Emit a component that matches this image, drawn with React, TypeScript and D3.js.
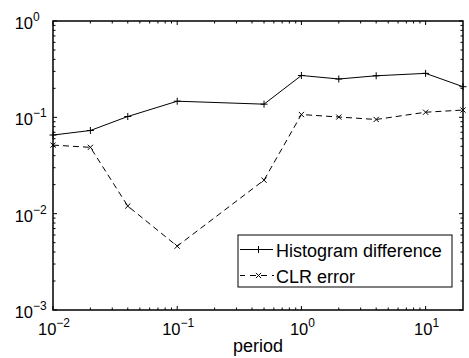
import React from "react";
import * as d3 from "d3";

const periods = [0.01, 0.02, 0.04, 0.1, 0.5, 1, 2, 4, 10, 20];
const histogramDiff = [0.0655, 0.073, 0.102, 0.147, 0.137, 0.272, 0.25, 0.27, 0.286, 0.208];
const clrError = [0.0515, 0.0488, 0.012, 0.0046, 0.0223, 0.107, 0.1007, 0.095, 0.113, 0.119];
const xMajor = [0.01, 0.1, 1, 10];
const yMajor = [0.001, 0.01, 0.1, 1];
const xExp = ["−2", "−1", "0", "1"];
const yExp = ["−3", "−2", "−1", "0"];
const legendLabels = ["Histogram difference", "CLR error"];

export default function App() {
  const W = 469, H = 358;
  const L = 53, R = 463, T = 21, B = 310;
  const x = d3.scaleLog().domain([0.01, 20]).range([L, R]);
  const y = d3.scaleLog().domain([0.001, 1]).range([B, T]);
  const font = "'Liberation Sans', Arial, sans-serif";

  const xMinor: number[] = [];
  for (let e = -2; e <= 1; e++) for (let k = 2; k <= 9; k++) {
    const v = k * Math.pow(10, e);
    if (v < 20) xMinor.push(v);
  }
  const yMinor: number[] = [];
  for (let e = -3; e <= -1; e++) for (let k = 2; k <= 9; k++) yMinor.push(k * Math.pow(10, e));

  const line = d3.line<number>().x((_, i) => x(periods[i])).y((d) => y(d));
  const ms = 3.5;

  const plus = (cx: number, cy: number, key: string) => (
    <path key={key} d={`M${cx - ms},${cy}H${cx + ms}M${cx},${cy - ms}V${cy + ms}`} stroke="#000" strokeWidth={1} />
  );
  const cross = (cx: number, cy: number, key: string) => (
    <path key={key} d={`M${cx - 2.6},${cy - 2.6}L${cx + 2.6},${cy + 2.6}M${cx - 2.6},${cy + 2.6}L${cx + 2.6},${cy - 2.6}`} stroke="#000" strokeWidth={1} />
  );

  const lg = { x0: 238, y0: 235, x1: 452, y1: 287 };
  const majLen = 4, minLen = 2.5;

  return (
    <svg width={W} height={H} style={{ position: "absolute", left: 0, top: 0, background: "#fff" }} fontFamily={font}>
      <rect x={0} y={0} width={W} height={H} fill="#fff" />
      {xMajor.map((v) => (
        <g key={"xM" + v}>
          <line x1={x(v)} x2={x(v)} y1={B} y2={B - majLen} stroke="#000" />
          <line x1={x(v)} x2={x(v)} y1={T} y2={T + majLen} stroke="#000" />
        </g>
      ))}
      {xMinor.map((v) => (
        <g key={"xm" + v}>
          <line x1={x(v)} x2={x(v)} y1={B} y2={B - minLen} stroke="#000" />
          <line x1={x(v)} x2={x(v)} y1={T} y2={T + minLen} stroke="#000" />
        </g>
      ))}
      {yMajor.map((v) => (
        <g key={"yM" + v}>
          <line x1={L} x2={L + majLen} y1={y(v)} y2={y(v)} stroke="#000" />
          <line x1={R} x2={R - majLen} y1={y(v)} y2={y(v)} stroke="#000" />
        </g>
      ))}
      {yMinor.map((v) => (
        <g key={"ym" + v}>
          <line x1={L} x2={L + minLen} y1={y(v)} y2={y(v)} stroke="#000" />
          <line x1={R} x2={R - minLen} y1={y(v)} y2={y(v)} stroke="#000" />
        </g>
      ))}
      <path d={line(histogramDiff) || ""} fill="none" stroke="#000" strokeWidth={1} />
      <path d={line(clrError) || ""} fill="none" stroke="#000" strokeWidth={1} strokeDasharray="6,4" />
      {histogramDiff.map((d, i) => plus(x(periods[i]), y(d), "p" + i))}
      {clrError.map((d, i) => cross(x(periods[i]), y(d), "c" + i))}
      <rect x={L} y={T} width={R - L} height={B - T} fill="none" stroke="#000" strokeWidth={1.5} />
      {xMajor.map((v, i) => (
        <text key={"xl" + v} x={x(v) + 1} y={B + 25} fontSize={16.5} textAnchor="middle">
          10<tspan dy={-8} fontSize={12}>{xExp[i]}</tspan>
        </text>
      ))}
      {yMajor.map((v, i) => (
        <g key={"yl" + v}>
          <text x={L - 20} y={y(v) + 8} fontSize={16.5} textAnchor="end">10</text>
          <text x={L - 20} y={y(v)} fontSize={12} textAnchor="start">{yExp[i]}</text>
        </g>
      ))}
      <text x={258} y={352} fontSize={18} textAnchor="middle">period</text>
      <rect x={lg.x0} y={lg.y0} width={lg.x1 - lg.x0} height={lg.y1 - lg.y0} fill="#fff" stroke="#000" strokeWidth={1} />
      <line x1={240} x2={273} y1={249.5} y2={249.5} stroke="#000" />
      {plus(258.5, 249.5, "lp")}
      <line x1={240} x2={274} y1={275.5} y2={275.5} stroke="#000" strokeDasharray="6,5" strokeDashoffset={1} />
      {cross(258.5, 275.5, "lc")}
      <text x={276} y={257} fontSize={18}>{legendLabels[0]}</text>
      <text x={276} y={283} fontSize={18}>{legendLabels[1]}</text>
    </svg>
  );
}
